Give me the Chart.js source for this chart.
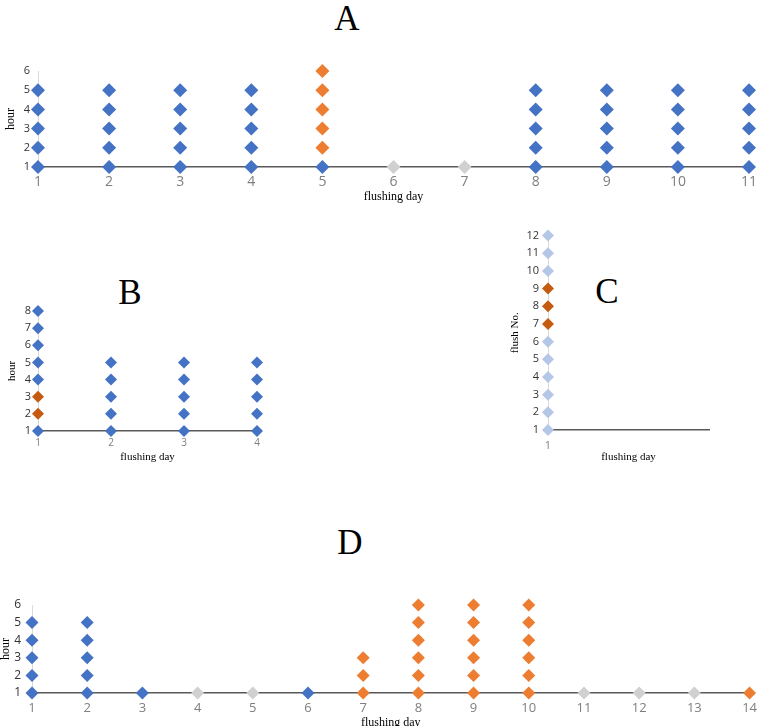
<!DOCTYPE html>
<html>
<head>
<meta charset="utf-8">
<script src="https://cdn.jsdelivr.net/npm/chart.js@4.4.1/dist/chart.umd.min.js"></script>
<style>
  html, body { margin: 0; padding: 0; background: #fff; overflow: hidden; }
  body { width: 764px; height: 726px; position: relative; }
  canvas { position: absolute; }
  .letter {
    position: absolute;
    font-family: 'Liberation Serif', 'Times New Roman', serif;
    font-size: 35px;
    line-height: 1;
    color: #000;
    transform: translate(-50%, -50%);
  }
</style>
</head>
<body>
<div class="letter" style="left:347px;top:18px">A</div>
<div class="letter" style="left:130px;top:292px">B</div>
<div class="letter" style="left:607px;top:291px">C</div>
<div class="letter" style="left:350px;top:542px">D</div>

<canvas id="chartA" width="764" height="154" style="left:0;top:50px"></canvas>
<canvas id="chartB" width="270" height="174" style="left:0;top:290px"></canvas>
<canvas id="chartC" width="264" height="244" style="left:500px;top:220px"></canvas>
<canvas id="chartD" width="764" height="150" style="left:0;top:580px"></canvas>

<script>
// ─── DATA ───────────────────────────────────────────────────────
// hours marked on each flushing day, split by marker colour

// A
const daysA = [1, 2, 3, 4, 5, 6, 7, 8, 9, 10, 11];
const blueA = [[1,2,3,4,5], [1,2,3,4,5], [1,2,3,4,5], [1,2,3,4,5], [1], [], [], [1,2,3,4,5], [1,2,3,4,5], [1,2,3,4,5], [1,2,3,4,5]];
const orangeA = [[], [], [], [], [2,3,4,5,6], [], [], [], [], [], []];
const greyA = [[], [], [], [], [], [1], [1], [], [], [], []];
const xTicksA = [1, 2, 3, 4, 5, 6, 7, 8, 9, 10, 11];
const yTicksA = [1, 2, 3, 4, 5, 6];

// B
const daysB = [1, 2, 3, 4];
const blueB = [[1,4,5,6,7,8], [1,2,3,4,5], [1,2,3,4,5], [1,2,3,4,5]];
const rustB = [[2,3], [], [], []];
const xTicksB = [1, 2, 3, 4];
const yTicksB = [1, 2, 3, 4, 5, 6, 7, 8];

// C
const daysC = [1];
const paleC = [[1,2,3,4,5,6,10,11,12]];
const rustC = [[7,8,9]];
const xTicksC = [1];
const yTicksC = [1, 2, 3, 4, 5, 6, 7, 8, 9, 10, 11, 12];
const xMaxC = 2;

// D
const daysD = [1, 2, 3, 4, 5, 6, 7, 8, 9, 10, 11, 12, 13, 14];
const blueD = [[1,2,3,4,5], [1,2,3,4,5], [1], [], [], [1], [], [], [], [], [], [], [], []];
const orangeD = [[], [], [], [], [], [], [1,2,3], [1,2,3,4,5,6], [1,2,3,4,5,6], [1,2,3,4,5,6], [], [], [], [1]];
const greyD = [[], [], [], [1], [1], [], [], [], [], [], [1], [1], [1], []];
const xTicksD = [1, 2, 3, 4, 5, 6, 7, 8, 9, 10, 11, 12, 13, 14];
const yTicksD = [1, 2, 3, 4, 5, 6];

// ─── STYLE ──────────────────────────────────────────────────────
const BLUE = '#4472C4';
const ORANGE = '#ED7D31';
const GREY = '#D0D0D0';
const RUST = '#C55A11';
const PALE = '#B4C7E7';
const SANS = "'Open Sans', 'Liberation Sans', sans-serif";
const SERIF = "'Liberation Serif', 'Times New Roman', serif";

function series(days, hours, color, r) {
  return {
    data: days.flatMap((d, i) => hours[i].map(h => ({ x: d, y: h }))),
    backgroundColor: color,
    borderColor: color,
    borderWidth: 0,
    pointStyle: 'rectRot',
    pointRadius: r,
    pointHoverRadius: r,
    clip: false,
  };
}

function makePanel(id, p) {
  return new Chart(document.getElementById(id), {
    type: 'scatter',
    data: { datasets: p.datasets },
    options: {
      responsive: false,
      animation: false,
      devicePixelRatio: 1,
      layout: { padding: { top: p.top, right: p.right, left: 0, bottom: 0 } },
      plugins: { legend: { display: false }, tooltip: { enabled: false } },
      scales: {
        x: {
          type: 'linear',
          min: p.xTicks[0],
          max: p.xMax,
          afterBuildTicks: (s) => { s.ticks = p.xTicks.map(v => ({ value: v })); },
          afterFit: (s) => { s.height = p.xH; },
          grid: { display: false, drawTicks: false },
          border: { display: true, color: '#595959', width: 1.5 },
          ticks: { padding: p.xPad, color: '#7f7f7f', font: { family: SANS, size: p.xFont }, maxRotation: 0, autoSkip: false },
          title: { display: true, text: 'flushing day', color: '#000', font: { family: SERIF, size: p.tFont }, padding: { top: 0, bottom: 0 } },
        },
        y: {
          type: 'linear',
          min: p.yTicks[0],
          max: p.yTicks[p.yTicks.length - 1],
          afterBuildTicks: (s) => { s.ticks = p.yTicks.map(v => ({ value: v })); },
          afterFit: (s) => { s.width = p.yW; },
          grid: { display: false, drawTicks: false },
          border: { display: true, color: '#D9D9D9', width: 1 },
          ticks: { padding: p.yPad, color: '#333', font: { family: SANS, size: p.yFont }, autoSkip: false },
          title: { display: true, text: p.yTitle, color: '#000', font: { family: SERIF, size: p.tFont, lineHeight: p.tLine || 1.2 }, padding: { top: p.yTitlePad, bottom: 0 } },
        },
      },
    },
  });
}

makePanel('chartA', {
  datasets: [series(daysA, blueA, BLUE, 7), series(daysA, orangeA, ORANGE, 7), series(daysA, greyA, GREY, 7)],
  xTicks: xTicksA, yTicks: yTicksA, xMax: xTicksA[xTicksA.length - 1],
  top: 21, right: 10, yW: 38, xH: 37,
  xPad: 7, yPad: 8, xFont: 14, yFont: 11, tFont: 12,
  yTitle: 'hour', yTitlePad: 4,
});

makePanel('chartB', {
  datasets: [series(daysB, blueB, BLUE, 6), series(daysB, rustB, RUST, 6)],
  xTicks: xTicksB, yTicks: yTicksB, xMax: xTicksB[xTicksB.length - 1],
  top: 21, right: 13, yW: 38, xH: 33,
  xPad: 6, yPad: 7, xFont: 10, yFont: 11, tFont: 11,
  yTitle: 'hour', yTitlePad: 6,
});

makePanel('chartC', {
  datasets: [series(daysC, paleC, PALE, 6), series(daysC, rustC, RUST, 6)],
  xTicks: xTicksC, yTicks: yTicksC, xMax: xMaxC,
  top: 15, right: 55, yW: 48, xH: 34,
  xPad: 9, yPad: 9, xFont: 11, yFont: 11, tFont: 11,
  yTitle: 'flush No.', yTitlePad: 9,
});

makePanel('chartD', {
  datasets: [series(daysD, blueD, BLUE, 6.5), series(daysD, orangeD, ORANGE, 6.5), series(daysD, greyD, GREY, 6.5)],
  xTicks: xTicksD, yTicks: yTicksD, xMax: xTicksD[xTicksD.length - 1],
  top: 25, right: 7, yW: 32, xH: 37,
  xPad: 7, yPad: 11, xFont: 13, yFont: 12, tFont: 12, tLine: 0.9,
  yTitle: 'hour', yTitlePad: 0,
});
</script>
</body>
</html>
